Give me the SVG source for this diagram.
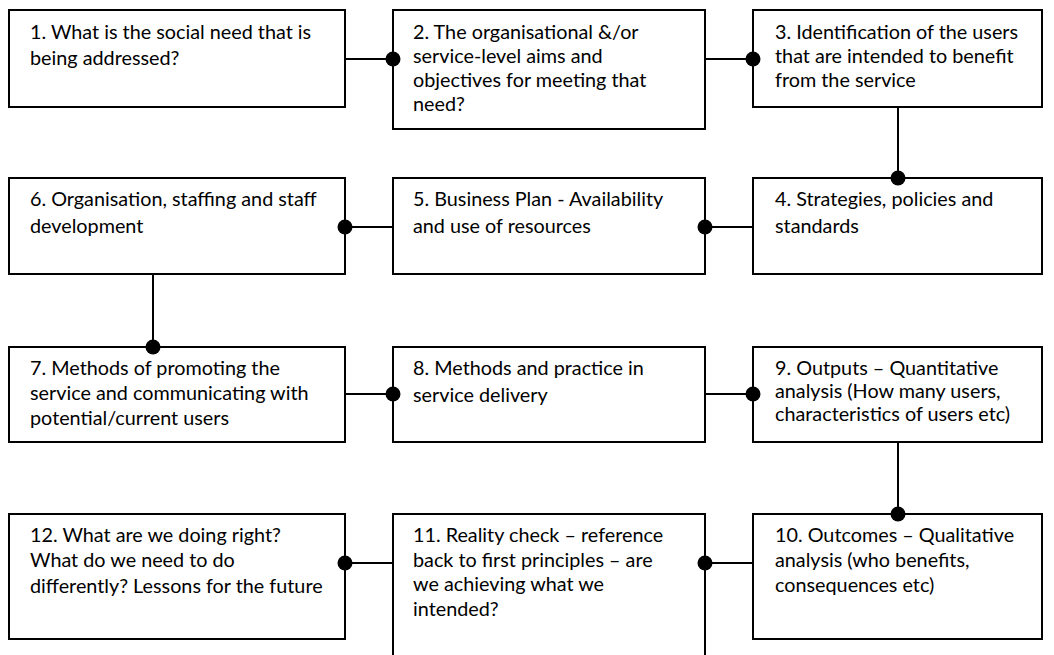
<svg xmlns="http://www.w3.org/2000/svg" width="1054" height="655" viewBox="0 0 1054 655">
<style>
.box{fill:#fff;stroke:#000;stroke-width:2}
.t{font-family:Lato,"Liberation Sans",sans-serif;font-size:19.8px;fill:#000}
.c{stroke:#000;stroke-width:2;fill:none}
.d{fill:#000}
</style>
<rect width="1054" height="655" fill="#fff"/>
<g id="n1"><rect class="box" x="9" y="10" width="336" height="97"/>
<text class="t"><tspan x="30" y="39">1. What is the social need that is</tspan><tspan x="30" y="65">being addressed?</tspan></text></g>
<g id="n2"><rect class="box" x="393" y="10" width="312" height="119"/>
<text class="t"><tspan x="413" y="39">2. The organisational &amp;/or</tspan><tspan x="413" y="63">service-level aims and</tspan><tspan x="413" y="87">objectives for meeting that</tspan><tspan x="413" y="111">need?</tspan></text></g>
<g id="n3"><rect class="box" x="753" y="10" width="289" height="97"/>
<text class="t"><tspan x="775" y="39">3. Identification of the users</tspan><tspan x="775" y="63">that are intended to benefit</tspan><tspan x="775" y="87">from the service</tspan></text></g>
<g id="n4"><rect class="box" x="753" y="178" width="289" height="96"/>
<text class="t"><tspan x="775" y="206">4. Strategies, policies and</tspan><tspan x="775" y="233">standards</tspan></text></g>
<g id="n5"><rect class="box" x="393" y="178" width="312" height="96"/>
<text class="t"><tspan x="413" y="206">5. Business Plan - Availability</tspan><tspan x="413" y="233">and use of resources</tspan></text></g>
<g id="n6"><rect class="box" x="9" y="178" width="336" height="96"/>
<text class="t"><tspan x="30" y="206">6. Organisation, staffing and staff</tspan><tspan x="30" y="233">development</tspan></text></g>
<g id="n7"><rect class="box" x="9" y="347" width="336" height="95"/>
<text class="t"><tspan x="30" y="375">7. Methods of promoting the</tspan><tspan x="30" y="400">service and communicating with</tspan><tspan x="30" y="425">potential/current users</tspan></text></g>
<g id="n8"><rect class="box" x="393" y="347" width="312" height="95"/>
<text class="t"><tspan x="413" y="375">8. Methods and practice in</tspan><tspan x="413" y="402">service delivery</tspan></text></g>
<g id="n9"><rect class="box" x="753" y="347" width="289" height="95"/>
<text class="t"><tspan x="775" y="375">9. Outputs – Quantitative</tspan><tspan x="775" y="398">analysis (How many users,</tspan><tspan x="775" y="421">characteristics of users etc)</tspan></text></g>
<g id="n10"><rect class="box" x="753" y="514" width="289" height="125"/>
<text class="t"><tspan x="775" y="542">10. Outcomes – Qualitative</tspan><tspan x="775" y="567">analysis (who benefits,</tspan><tspan x="775" y="592">consequences etc)</tspan></text></g>
<g id="n11"><rect class="box" x="393" y="514" width="312" height="150"/>
<text class="t"><tspan x="413" y="542">11. Reality check – reference</tspan><tspan x="413" y="567">back to first principles – are</tspan><tspan x="413" y="591">we achieving what we</tspan><tspan x="413" y="616">intended?</tspan></text></g>
<g id="n12"><rect class="box" x="9" y="514" width="336" height="125"/>
<text class="t"><tspan x="30" y="542">12. What are we doing right?</tspan><tspan x="30" y="567">What do we need to do</tspan><tspan x="30" y="593">differently? Lessons for the future</tspan></text></g>
<g id="connectors">
<path class="c" d="M345 59H393M705 59H753M898 107V178M753 227H705M393 227H345M153 274V347M345 394H393M705 394H753M898 442V514M753 563H705M393 563H345"/>
<circle class="d" cx="393" cy="59" r="7.5"/>
<circle class="d" cx="753" cy="59" r="7.5"/>
<circle class="d" cx="898" cy="178" r="7.5"/>
<circle class="d" cx="705" cy="227" r="7.5"/>
<circle class="d" cx="345" cy="227" r="7.5"/>
<circle class="d" cx="153" cy="347" r="7.5"/>
<circle class="d" cx="393" cy="394" r="7.5"/>
<circle class="d" cx="753" cy="394" r="7.5"/>
<circle class="d" cx="898" cy="514" r="7.5"/>
<circle class="d" cx="705" cy="563" r="7.5"/>
<circle class="d" cx="345" cy="563" r="7.5"/>
</g>
</svg>
